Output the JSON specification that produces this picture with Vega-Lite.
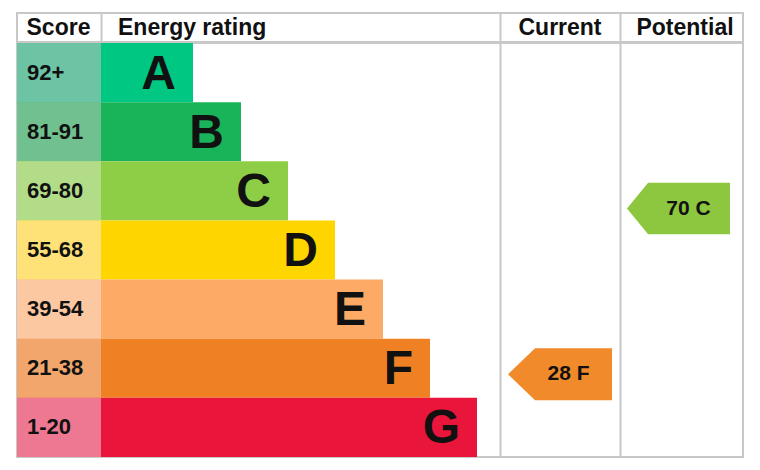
{
  "$schema": "https://vega.github.io/schema/vega-lite/v6.json",
  "description": "Energy performance rating chart: current 28 F, potential 70 C",
  "background": "white",
  "padding": {"left": 16, "top": 12, "right": 0, "bottom": 0},
  "spacing": -2,
  "config": {
    "view": {"stroke": "#c8c8c8", "strokeWidth": 2},
    "font": "Liberation Sans",
    "text": {"font": "Liberation Sans", "fontWeight": "bold", "color": "#111111"}
  },
  "datasets": {
    "bands": [
      {"rating": "A", "score": "92+", "bar": 176},
      {"rating": "B", "score": "81-91", "bar": 224},
      {"rating": "C", "score": "69-80", "bar": 271},
      {"rating": "D", "score": "55-68", "bar": 318},
      {"rating": "E", "score": "39-54", "bar": 366},
      {"rating": "F", "score": "21-38", "bar": 413},
      {"rating": "G", "score": "1-20", "bar": 460}
    ],
    "arrows": [
      {"column": "Current", "value": 28, "rating": "F", "label": "28 F"},
      {"column": "Potential", "value": 70, "rating": "C", "label": "70 C"}
    ],
    "columns": [
      {"column": "Score"},
      {"column": "Energy rating"},
      {"column": "Current"},
      {"column": "Potential"}
    ]
  },
  "vconcat": [
    {
      "width": 726,
      "height": 29,
      "data": {"name": "columns"},
      "layer": [
        {
          "transform": [{"filter": "datum.column === 'Score'"}],
          "mark": {"type": "text", "fontSize": 23, "align": "center", "baseline": "middle"},
          "encoding": {
            "x": {
              "datum": 41.5,
              "type": "quantitative",
              "scale": {"domain": [0, 726], "nice": false, "zero": false},
              "axis": {"orient": "top", "values": [84, 483, 603], "grid": true, "gridColor": "#c8c8c8", "gridWidth": 2, "labels": false, "ticks": false, "domain": false, "title": null}
            },
            "text": {"field": "column"}
          }
        },
        {
          "transform": [{"filter": "datum.column === 'Energy rating'"}],
          "mark": {"type": "text", "fontSize": 23, "align": "left", "baseline": "middle"},
          "encoding": {
            "x": {"datum": 101, "type": "quantitative"},
            "text": {"field": "column"}
          }
        },
        {
          "transform": [{"filter": "datum.column === 'Current'"}],
          "mark": {"type": "text", "fontSize": 23, "align": "center", "baseline": "middle"},
          "encoding": {
            "x": {"datum": 543, "type": "quantitative"},
            "text": {"field": "column"}
          }
        },
        {
          "transform": [{"filter": "datum.column === 'Potential'"}],
          "mark": {"type": "text", "fontSize": 23, "align": "center", "baseline": "middle"},
          "encoding": {
            "x": {"datum": 668, "type": "quantitative"},
            "text": {"field": "column"}
          }
        }
      ]
    },
    {
      "width": 726,
      "height": 414,
      "layer": [
        {
          "data": {"name": "bands"},
          "mark": {"type": "bar", "orient": "horizontal"},
          "encoding": {
            "y": {
              "field": "rating",
              "type": "nominal",
              "scale": {"domain": ["A", "B", "C", "D", "E", "F", "G"], "paddingInner": 0, "paddingOuter": 0},
              "axis": null
            },
            "x": {
              "field": "bar",
              "type": "quantitative",
              "scale": {"domain": [0, 726], "nice": false, "zero": true},
              "axis": {"orient": "top", "values": [483, 603], "grid": true, "gridColor": "#c8c8c8", "gridWidth": 2, "labels": false, "ticks": false, "domain": false, "title": null}
            },
            "color": {
              "field": "rating",
              "type": "nominal",
              "scale": {"domain": ["A", "B", "C", "D", "E", "F", "G"], "range": ["#00c781", "#19b459", "#8dce46", "#ffd500", "#fcaa65", "#ef8023", "#e9153b"]},
              "legend": null
            }
          }
        },
        {
          "data": {"name": "bands"},
          "mark": {"type": "bar", "orient": "horizontal"},
          "encoding": {
            "y": {"field": "rating", "type": "nominal"},
            "x": {"datum": 84, "type": "quantitative"},
            "color": {
              "field": "rating",
              "type": "nominal",
              "scale": {"domain": ["A", "B", "C", "D", "E", "F", "G"], "range": ["#6dc4a5", "#70c18f", "#b3dc88", "#fee277", "#fcc8a2", "#f2a66c", "#ee7891"]},
              "legend": null
            }
          }
        },
        {
          "data": {"name": "bands"},
          "mark": {"type": "text", "fontSize": 22, "align": "left", "baseline": "middle", "dx": 10},
          "encoding": {
            "y": {"field": "rating", "type": "nominal"},
            "x": {"datum": 0, "type": "quantitative"},
            "text": {"field": "score"}
          }
        },
        {
          "data": {"name": "bands"},
          "mark": {"type": "text", "fontSize": 48, "align": "right", "baseline": "middle", "dx": -17, "dy": 2},
          "encoding": {
            "y": {"field": "rating", "type": "nominal"},
            "x": {"field": "bar", "type": "quantitative"},
            "text": {"field": "rating"}
          }
        },
        {
          "data": {"name": "arrows"},
          "transform": [{"filter": "datum.column === 'Current'"}],
          "mark": {"type": "point", "filled": true, "opacity": 1, "size": 10816, "strokeWidth": 0, "shape": "M -1 0 L -0.48 -0.5 L 1 -0.5 L 1 0.5 L -0.48 0.5 Z"},
          "encoding": {
            "y": {"field": "rating", "type": "nominal", "bandPosition": 0.6},
            "x": {"datum": 543, "type": "quantitative"},
            "color": {
              "field": "rating",
              "type": "nominal",
              "scale": {"domain": ["A", "B", "C", "D", "E", "F", "G"], "range": ["#00c781", "#19b459", "#8dce46", "#ffd500", "#fcaa65", "#f08a2a", "#e9153b"]},
              "legend": null
            }
          }
        },
        {
          "data": {"name": "arrows"},
          "transform": [{"filter": "datum.column === 'Current'"}],
          "mark": {"type": "text", "fontSize": 21, "align": "center", "baseline": "middle"},
          "encoding": {
            "y": {"field": "rating", "type": "nominal", "bandPosition": 0.6},
            "x": {"datum": 551.5, "type": "quantitative"},
            "text": {"field": "label"}
          }
        },
        {
          "data": {"name": "arrows"},
          "transform": [{"filter": "datum.column === 'Potential'"}],
          "mark": {"type": "point", "filled": true, "opacity": 1, "size": 10609, "strokeWidth": 0, "shape": "M -1 0 L -0.59 -0.5 L 1 -0.5 L 1 0.5 L -0.59 0.5 Z"},
          "encoding": {
            "y": {"field": "rating", "type": "nominal", "bandPosition": 0.8},
            "x": {"datum": 661.5, "type": "quantitative"},
            "color": {
              "field": "rating",
              "type": "nominal",
              "scale": {"domain": ["A", "B", "C", "D", "E", "F", "G"], "range": ["#00c781", "#19b459", "#8dc63f", "#ffd500", "#fcaa65", "#f08a2a", "#e9153b"]},
              "legend": null
            }
          }
        },
        {
          "data": {"name": "arrows"},
          "transform": [{"filter": "datum.column === 'Potential'"}],
          "mark": {"type": "text", "fontSize": 21, "align": "center", "baseline": "middle"},
          "encoding": {
            "y": {"field": "rating", "type": "nominal", "bandPosition": 0.8},
            "x": {"datum": 671.5, "type": "quantitative"},
            "text": {"field": "label"}
          }
        }
      ],
      "resolve": {"scale": {"color": "independent"}}
    }
  ]
}
